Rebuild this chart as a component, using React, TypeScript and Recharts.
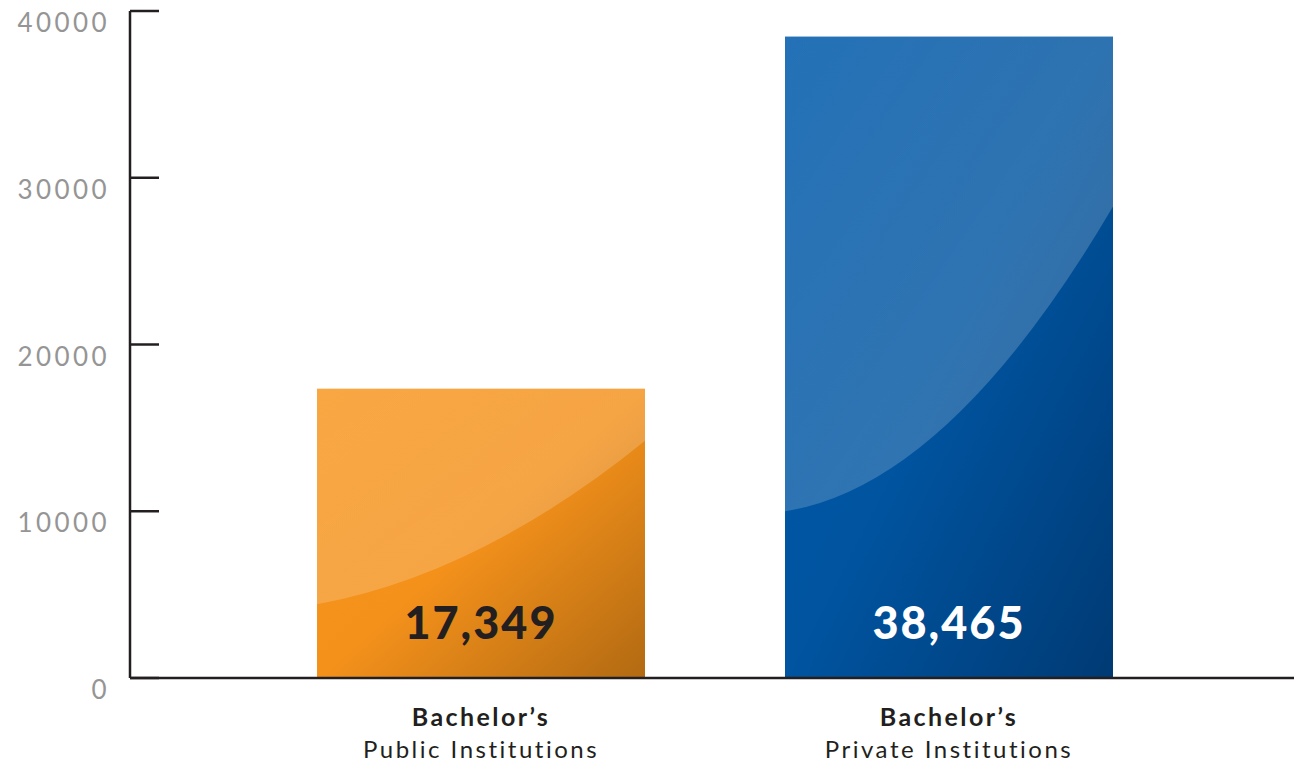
import { BarChart, Bar, XAxis, YAxis, LabelList } from "recharts";

const institutions = ["Public Institutions", "Private Institutions"];
const degrees = ["Bachelor’s", "Bachelor’s"];
const costs = [17349, 38465];
const yTicks = [0, 10000, 20000, 30000, 40000];

const data = institutions.map((name, i) => ({
  name,
  degree: degrees[i],
  cost: costs[i],
}));

const INK = "#231f20";
const TICK_GRAY = "#959595";
const FONT = "Lato, sans-serif";

// per-bar look: base gradient stops, gloss curve (fractions of height from bottom), label colour
const LOOK = [
  {
    stops: ["#f7961f", "#f4911b", "#b26a12"],
    gloss: { l: 0.255, c: 0.36, r: 0.82 },
    glossAlpha: [0.16, 0.2],
    label: INK,
  },
  {
    stops: ["#005aab", "#0054a0", "#003a74"],
    gloss: { l: 0.26, c: 0.3, r: 0.735 },
    glossAlpha: [0.14, 0.22],
    label: "#ffffff",
  },
];

function GlossBar(props: any) {
  const { x, y, width: w, height: h, index } = props;
  const g = LOOK[index].gloss;
  const p0 = y + h * (1 - g.l);
  const p2 = y + h * (1 - g.r);
  const cy = y + h * (1 - g.c);
  const cx = x + w * 0.5;
  return (
    <g>
      <rect x={x} y={y} width={w} height={h} fill={`url(#base${index})`} />
      <path
        d={`M${x},${y} L${x + w},${y} L${x + w},${p2} Q${cx},${cy} ${x},${p0} Z`}
        fill={`url(#gloss${index})`}
      />
    </g>
  );
}

function YTick(props: any) {
  const { x, y, payload } = props;
  return (
    <g>
      <line x1={x + 20} x2={x + 49} y1={y} y2={y} stroke={INK} strokeWidth={2.5} />
      <text
        x={x}
        y={y + 21}
        textAnchor="end"
        fill={TICK_GRAY}
        fontSize={26}
        fontWeight={400}
        letterSpacing={3.4}
        fontFamily={FONT}
      >
        {payload.value}
      </text>
    </g>
  );
}

function XTick(props: any) {
  const { x, y, index } = props;
  return (
    <g fontFamily={FONT} fill={INK} textAnchor="middle">
      <text x={x} y={y + 48} fontSize={25} fontWeight={700} letterSpacing={2.4}>
        {degrees[index]}
      </text>
      <text x={x} y={y + 80} fontSize={24} fontWeight={400} letterSpacing={2.5}>
        {institutions[index]}
      </text>
    </g>
  );
}

function ValueLabel(props: any) {
  const { x, y, width, height, value, index } = props;
  return (
    <text
      x={x + width / 2}
      y={y + height - 39}
      textAnchor="middle"
      fill={LOOK[index].label}
      fontSize={45}
      fontWeight={900}
      letterSpacing={2}
      fontFamily={FONT}
    >
      {Number(value).toLocaleString("en-US")}
    </text>
  );
}

export default function App() {
  return (
    <div style={{ position: "absolute", left: 0, top: 0, background: "#fff" }}>
      <BarChart
        width={1294}
        height={763}
        data={data}
        margin={{ top: 11, right: 0, left: 0, bottom: 0 }}
        barSize={328}
      >
        <defs>
          {LOOK.map((l, i) => (
            <linearGradient key={`b${i}`} id={`base${i}`} x1="0" y1="0" x2="1" y2="1">
              <stop offset="0%" stopColor={l.stops[0]} />
              <stop offset="50%" stopColor={l.stops[1]} />
              <stop offset="100%" stopColor={l.stops[2]} />
            </linearGradient>
          ))}
          {LOOK.map((l, i) => (
            <linearGradient key={`g${i}`} id={`gloss${i}`} x1="0" y1="0" x2="1" y2="1">
              <stop offset="0%" stopColor="#ffffff" stopOpacity={l.glossAlpha[0]} />
              <stop offset="100%" stopColor="#ffffff" stopOpacity={l.glossAlpha[1]} />
            </linearGradient>
          ))}
        </defs>
        <XAxis
          dataKey="name"
          height={85}
          padding={{ left: 117, right: 111 }}
          axisLine={{ stroke: INK, strokeWidth: 2.5 }}
          tickLine={false}
          tickSize={0}
          tickMargin={0}
          interval={0}
          tick={<XTick />}
        />
        <YAxis
          width={130}
          domain={[0, 40000]}
          ticks={yTicks}
          axisLine={{ stroke: INK, strokeWidth: 2.5 }}
          tickLine={false}
          tickSize={0}
          tickMargin={20}
          tick={<YTick />}
        />
        <Bar dataKey="cost" shape={<GlossBar />} isAnimationActive={false}>
          <LabelList dataKey="cost" content={<ValueLabel />} />
        </Bar>
      </BarChart>
    </div>
  );
}
